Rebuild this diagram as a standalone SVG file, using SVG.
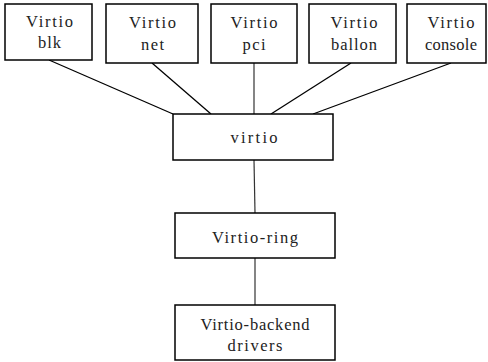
<svg xmlns="http://www.w3.org/2000/svg" width="488" height="362" viewBox="0 0 488 362">
  <style>
    .box { fill: #ffffff; stroke: #000000; stroke-width: 1.5; }
    .link { stroke: #000000; stroke-width: 1.3; fill: none; }
    .vlink { stroke: #333333; stroke-width: 1.2; fill: none; }
    .lbl { font-family: "Liberation Serif", "DejaVu Serif", serif; font-size: 16.5px; fill: #222222; text-anchor: middle; }
  </style>
  <rect width="488" height="362" fill="#ffffff"/>
  <g id="connectors">
    <line class="link" x1="49" y1="60" x2="173" y2="114"/>
    <line class="link" x1="152" y1="63" x2="211" y2="114"/>
    <line class="vlink" x1="254" y1="63" x2="254" y2="114"/>
    <line class="link" x1="351" y1="63" x2="271" y2="114"/>
    <line class="link" x1="451" y1="63" x2="313" y2="114"/>
    <line class="vlink" x1="254" y1="160" x2="255" y2="213"/>
    <line class="vlink" x1="255" y1="258" x2="255" y2="305"/>
  </g>
  <g id="virtio-blk">
    <rect class="box" x="5" y="4" width="87" height="56"/>
    <text class="lbl" x="49.5" y="27" textLength="47" lengthAdjust="spacing">Virtio</text>
    <text class="lbl" x="49.5" y="48" textLength="23" lengthAdjust="spacing">blk</text>
  </g>
  <g id="virtio-net">
    <rect class="box" x="106" y="4" width="92" height="59"/>
    <text class="lbl" x="152.5" y="28" textLength="47" lengthAdjust="spacing">Virtio</text>
    <text class="lbl" x="152.5" y="50" textLength="23" lengthAdjust="spacing">net</text>
  </g>
  <g id="virtio-pci">
    <rect class="box" x="211" y="4" width="86" height="59"/>
    <text class="lbl" x="254" y="28" textLength="47" lengthAdjust="spacing">Virtio</text>
    <text class="lbl" x="254" y="50" textLength="23" lengthAdjust="spacing">pci</text>
  </g>
  <g id="virtio-ballon">
    <rect class="box" x="309" y="4" width="87" height="59"/>
    <text class="lbl" x="354" y="28" textLength="47" lengthAdjust="spacing">Virtio</text>
    <text class="lbl" x="354" y="50" textLength="46" lengthAdjust="spacing">ballon</text>
  </g>
  <g id="virtio-console">
    <rect class="box" x="407" y="4" width="79" height="59"/>
    <text class="lbl" x="451" y="28" textLength="47" lengthAdjust="spacing">Virtio</text>
    <text class="lbl" x="451" y="50" textLength="52" lengthAdjust="spacing">console</text>
  </g>
  <g id="virtio">
    <rect class="box" x="173" y="114" width="160" height="46"/>
    <text class="lbl" x="254" y="143" textLength="47" lengthAdjust="spacing">virtio</text>
  </g>
  <g id="virtio-ring">
    <rect class="box" x="175" y="213" width="160" height="45"/>
    <text class="lbl" x="255" y="243" textLength="86" lengthAdjust="spacing">Virtio-ring</text>
  </g>
  <g id="virtio-backend">
    <rect class="box" x="175" y="305" width="160" height="55"/>
    <text class="lbl" x="255" y="330" textLength="109" lengthAdjust="spacing">Virtio-backend</text>
    <text class="lbl" x="255" y="351" textLength="55" lengthAdjust="spacing">drivers</text>
  </g>
</svg>
